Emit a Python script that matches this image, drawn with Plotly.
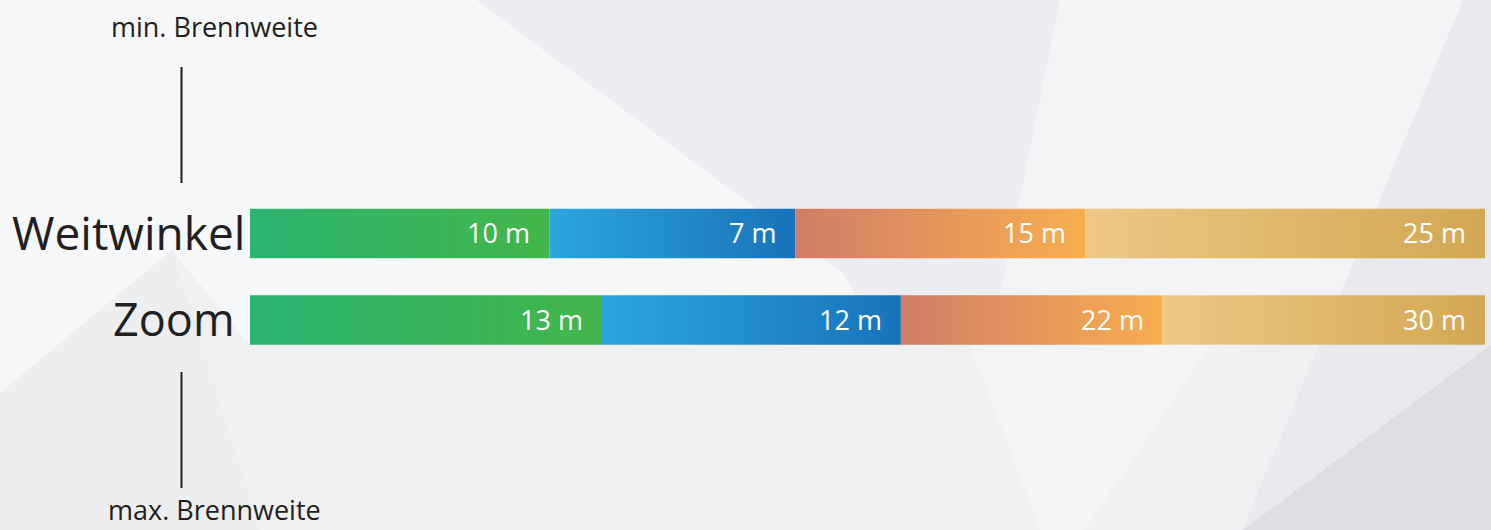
import plotly.graph_objects as go
import numpy as np

# ---- data ----
categories = ["Weitwinkel", "Zoom"]
segment_names = ["Segment 1", "Segment 2", "Segment 3", "Segment 4"]
# bar segment lengths (share of the full bar, %)
weitwinkel_widths = [24.25, 19.9, 23.5, 32.35]
zoom_widths = [28.5, 24.2, 21.2, 26.1]
# value labels printed in the segments
weitwinkel_labels = ["10 m", "7 m", "15 m", "25 m"]
zoom_labels = ["13 m", "12 m", "22 m", "30 m"]
top_label = "min. Brennweite"
bottom_label = "max. Brennweite"

# ---- styles ----
gradients = [
    ("#2cb471", "#42b649"),
    ("#2ca6de", "#1873ba"),
    ("#d07e66", "#f9ae4f"),
    ("#edc886", "#d3a752"),
]
W, H = 1491, 530
BAR_X0, BAR_X1 = 250, 1485
ROW_PX = [233.5, 320.0]          # pixel centres of the rows
STEP = ROW_PX[1] - ROW_PX[0]
HALF = 0.285                     # half bar thickness in row units
TXT = "#231f20"
FONT = "Open Sans"

def px(x):
    return x / W

def py(y):
    return 1 - y / H

fig = go.Figure()

widths_all = [weitwinkel_widths, zoom_widths]
labels_all = [weitwinkel_labels, zoom_labels]
annotations = []
for r, (cat, widths, labels) in enumerate(zip(categories, widths_all, labels_all)):
    ends = np.cumsum(widths)
    starts = ends - np.array(widths)
    for i, (s, e) in enumerate(zip(starts, ends)):
        c0, c1 = gradients[i]
        fig.add_trace(go.Scatter(
            x=[s, e, e, s, s],
            y=[r - HALF, r - HALF, r + HALF, r + HALF, r - HALF],
            mode="lines", line=dict(width=0), fill="toself",
            fillgradient=dict(type="horizontal", colorscale=[[0, c0], [1, c1]],
                              start=s, stop=e),
            name=f"{cat} – {segment_names[i]}", showlegend=False, hoverinfo="skip",
        ))
        annotations.append(dict(
            x=e, y=r, xref="x", yref="y", text=labels[i], showarrow=False,
            xanchor="right", yanchor="middle", xshift=-17, yshift=1,
            font=dict(family=FONT, size=27, color="white"),
        ))

# category labels
cat_right = [247, 237]
cat_size = [46, 45]
for r, cat in enumerate(categories):
    annotations.append(dict(
        x=px(cat_right[r]), y=r, xref="paper", yref="y", text=cat, showarrow=False,
        xanchor="right", yanchor="middle", yshift=2,
        font=dict(family=FONT, size=cat_size[r], color=TXT),
    ))

annotations.append(dict(x=px(214), y=py(27), xref="paper", yref="paper", text=top_label,
                        showarrow=False, xanchor="center", yanchor="middle",
                        font=dict(family=FONT, size=27, color=TXT)))
annotations.append(dict(x=px(214), y=0, xref="paper", yref="paper", text=bottom_label,
                        showarrow=False, xanchor="center", yanchor="bottom",
                        font=dict(family=FONT, size=27, color=TXT)))

# background polygons (decorative)
def poly(points, color):
    path = "M " + " L ".join(f"{px(x):.5f},{py(y):.5f}" for x, y in points) + " Z"
    return dict(type="path", path=path, xref="paper", yref="paper",
                fillcolor=color, line=dict(width=0), layer="below")

shapes = [
    poly([(0, 0), (477, 0), (845, 275), (880, 345), (250, 345), (172, 250), (0, 393)], "#f6f7f8"),
    poly([(0, 393), (172, 250), (260, 530), (0, 530)], "#eceef0"),
    poly([(477, 0), (1060, 0), (990, 345), (880, 345), (845, 275)], "#ecedf0"),
    poly([(1060, 0), (1463, 0), (1320, 345), (990, 345)], "#f2f3f4"),
    poly([(970, 345), (1210, 345), (1085, 530), (1040, 530)], "#f3f4f5"),
    poly([(1463, 0), (1491, 0), (1491, 530), (1242, 530)], "#e9eaed"),
    poly([(1491, 345), (1491, 530), (1243, 530)], "#dcdee2"),
    dict(type="line", xref="paper", yref="paper", x0=px(181.5), x1=px(181.5),
         y0=py(67), y1=py(183), line=dict(color=TXT, width=2)),
    dict(type="line", xref="paper", yref="paper", x0=px(181.5), x1=px(181.5),
         y0=py(372), y1=py(488), line=dict(color=TXT, width=2)),
]

y_top = -ROW_PX[0] / STEP
y_bot = (H - ROW_PX[0]) / STEP

fig.update_layout(
    width=W, height=H, margin=dict(l=0, r=0, t=0, b=0),
    paper_bgcolor="#eff0f2", plot_bgcolor="rgba(0,0,0,0)",
    xaxis=dict(domain=[px(BAR_X0), px(BAR_X1)], range=[0, 100], visible=False, fixedrange=True),
    yaxis=dict(domain=[0, 1], range=[y_bot, y_top], visible=False, fixedrange=True),
    annotations=annotations, shapes=shapes, showlegend=False,
)

fig.write_html("out.html", config={"displayModeBar": False})
